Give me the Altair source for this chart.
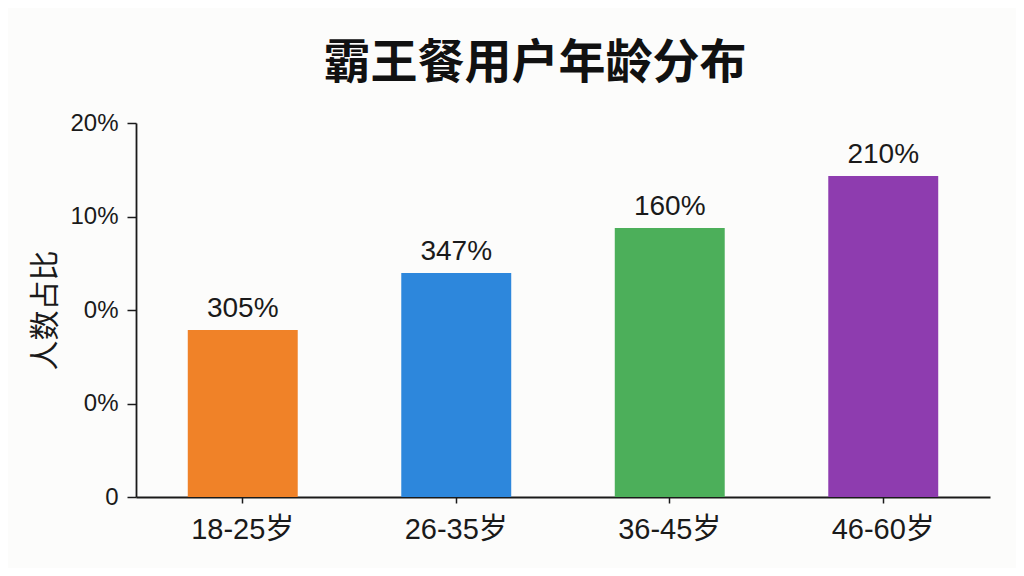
import altair as alt
import pandas as pd

categories = ["18-25岁", "26-35岁", "36-45岁", "46-60岁"]
values = [8.93, 11.98, 14.39, 17.17]
bar_labels = ["305%", "347%", "160%", "210%"]
colors = ["#F08228", "#2D87DC", "#4CAF5A", "#8E3CAF"]
y_tick_values = [0, 5, 10, 15, 20]
y_tick_labels = ["0", "0%", "0%", "10%", "20%"]

df = pd.DataFrame({"cat": categories, "val": values, "lab": bar_labels})

FONT = "Liberation Sans, Noto Sans CJK SC, sans-serif"
CJK = "Noto Sans CJK SC, sans-serif"

label_expr = " : ".join(
    f"datum.value == {v} ? '{t}'" for v, t in zip(y_tick_values, y_tick_labels)
) + " : ''"

x_enc = alt.X(
    "cat:N",
    sort=categories,
    scale=alt.Scale(paddingInner=0.485, paddingOuter=0.2425),
    axis=alt.Axis(
        title=None,
        labelAngle=0,
        labelFont=FONT,
        labelFontSize=29,
        labelColor="#1a1a1a",
        labelPadding=12,
        tickSize=6,
        tickColor="#1a1a1a",
        tickWidth=1.5,
        domainColor="#1a1a1a",
        domainWidth=1.8,
    ),
)

y_enc = alt.Y(
    "val:Q",
    scale=alt.Scale(domain=[0, 20], nice=False),
    axis=alt.Axis(
        title="人数占比",
        titleFont=CJK,
        titleFontSize=30,
        titleFontWeight="normal",
        titleColor="#1a1a1a",
        titleAngle=270,
        titleX=-91,
        titleY=187,
        titleAlign="center",
        titleBaseline="middle",
        values=y_tick_values,
        labelExpr=label_expr,
        labelFont=FONT,
        labelFontSize=24,
        labelColor="#1a1a1a",
        labelPadding=9,
        tickSize=9,
        tickColor="#1a1a1a",
        tickWidth=1.5,
        domainColor="#1a1a1a",
        domainWidth=1.8,
        grid=False,
    ),
)

bars = alt.Chart(df).mark_bar().encode(
    x=x_enc,
    y=y_enc,
    color=alt.Color("cat:N", sort=categories,
                    scale=alt.Scale(domain=categories, range=colors), legend=None),
)

texts = alt.Chart(df).mark_text(
    baseline="alphabetic", dy=-13, font=FONT, fontSize=28, color="#1a1a1a"
).encode(
    x=alt.X("cat:N", sort=categories),
    y=alt.Y("val:Q"),
    text="lab:N",
)

chart = alt.layer(bars, texts).properties(
    width=854,
    height=374,
    title=alt.TitleParams(
        "霸王餐用户年龄分布",
        font=CJK,
        fontSize=47,
        fontWeight="bold",
        color="#111111",
        anchor="middle",
        frame="group",
        dx=-28,
        offset=23,
    ),
    autosize=alt.AutoSizeParams(type="none"),
    padding={"left": 128, "top": 115, "right": 26, "bottom": 71},
    background="#FCFCFB",
).configure_view(stroke=None)

chart.save("out.html", embed_options={"renderer": "svg", "actions": False})
